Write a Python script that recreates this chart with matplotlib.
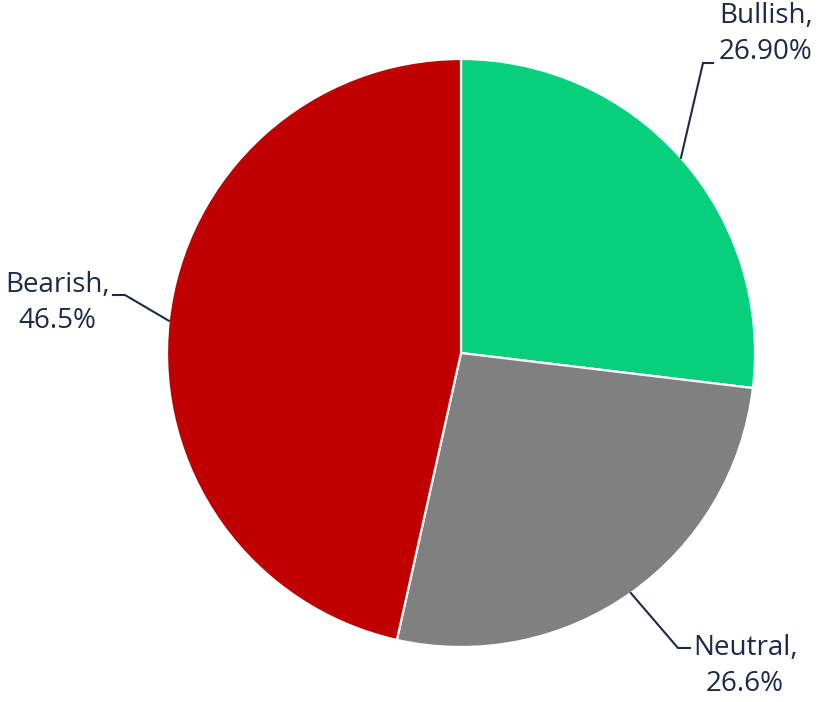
import numpy as np
import matplotlib
matplotlib.use("Agg")
import matplotlib.pyplot as plt

plt.rcParams['font.family'] = ['Open Sans', 'DejaVu Sans']

# data
labels = ["Bullish", "Neutral", "Bearish"]
pct_text = ["26.90%", "26.6%", "46.5%"]
values = [26.90, 26.6, 46.5]
colors = ["#07CF7B", "#808080", "#C00000"]

text_color = "#1C2A4A"

fig = plt.figure(figsize=(8.19, 7.02), dpi=100)
ax = fig.add_axes([0, 0, 1, 1])

cx, cy, r = 461, 349, 294
wedges, _ = ax.pie(values, colors=colors, startangle=90, counterclock=False,
                   center=(cx, cy), radius=r,
                   wedgeprops=dict(edgecolor="white", linewidth=1.6))
ax.set_xlim(0, 819)
ax.set_ylim(0, 702)
ax.set_aspect('equal')
ax.axis('off')

# leader line elbows and label centres (pixel layout, y up)
elbows = [((703, 639), (713, 639)),
          ((678, 54), (690, 54)),
          ((125, 407), (113, 407))]
label_pos = [(766, 668), (745, 36), (57, 399)]

for w, lab, pt, (e1, e2), (tx, ty) in zip(wedges, labels, pct_text, elbows, label_pos):
    mid = np.deg2rad((w.theta1 + w.theta2) / 2)
    px = cx + r * np.cos(mid)
    py = cy + r * np.sin(mid)
    ax.plot([px, e1[0], e2[0]], [py, e1[1], e2[1]], color=text_color, lw=1.5,
            solid_joinstyle='miter')
    ax.text(tx, ty, lab + ",\n" + pt, ha="center", va="center", multialignment="center",
            fontsize=20, color=text_color, linespacing=1.42)

fig.savefig("out.png", dpi=100)
